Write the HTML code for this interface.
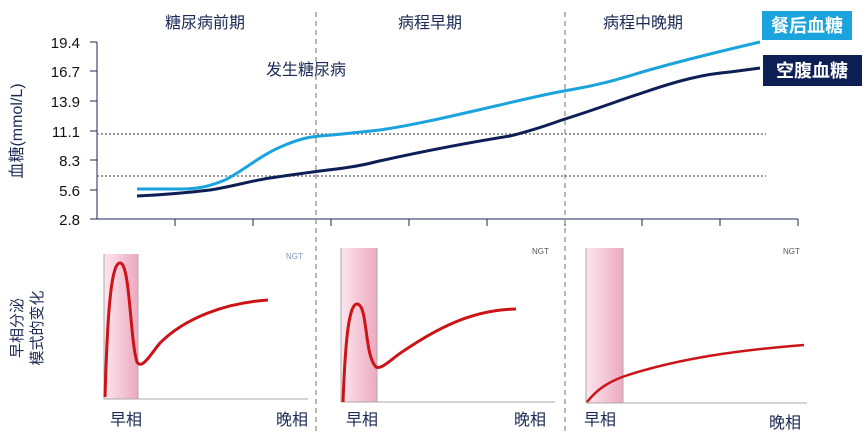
<!DOCTYPE html>
<html><head><meta charset="utf-8"><style>
body{margin:0;background:#fff;}
svg{display:block;font-family:"Liberation Sans","Noto Sans CJK SC",sans-serif;}
</style></head><body>
<svg width="867" height="441" viewBox="0 0 867 441">
<defs>
<linearGradient id="pk" x1="0" x2="1" y1="0" y2="0">
<stop offset="0" stop-color="#fbe6ee"/><stop offset="1" stop-color="#eda9c0"/>
</linearGradient>
</defs>
<g fill="#1b2a55" font-size="16">
<text x="165" y="28">糖尿病前期</text>
<text x="398" y="28">病程早期</text>
<text x="603" y="28">病程中晚期</text>
<text x="266" y="75">发生糖尿病</text>
</g>
<g fill="#111" font-size="15" text-anchor="end">
<text x="80" y="48">19.4</text><text x="80" y="77">16.7</text><text x="80" y="107">13.9</text>
<text x="80" y="137">11.1</text><text x="80" y="166">8.3</text><text x="80" y="196">5.6</text><text x="80" y="225">2.8</text>
</g>
<g stroke="#1b2a55" stroke-width="1">
<line x1="97" y1="42" x2="97" y2="219"/>
<line x1="97" y1="219" x2="798" y2="219"/>
<line x1="90" y1="42" x2="97" y2="42"/><line x1="90" y1="71" x2="97" y2="71"/><line x1="90" y1="101" x2="97" y2="101"/><line x1="90" y1="131" x2="97" y2="131"/><line x1="90" y1="160" x2="97" y2="160"/><line x1="90" y1="190" x2="97" y2="190"/><line x1="90" y1="219" x2="97" y2="219"/>
<line x1="175" y1="219" x2="175" y2="226"/><line x1="253" y1="219" x2="253" y2="226"/><line x1="331" y1="219" x2="331" y2="226"/><line x1="409" y1="219" x2="409" y2="226"/><line x1="487" y1="219" x2="487" y2="226"/><line x1="565" y1="219" x2="565" y2="226"/><line x1="642" y1="219" x2="642" y2="226"/><line x1="720" y1="219" x2="720" y2="226"/><line x1="798" y1="219" x2="798" y2="226"/>
</g>
<text transform="translate(22,131) rotate(-90)" fill="#1b2a55" font-size="16" text-anchor="middle">血糖(mmol/L)</text>
<g stroke="#777" stroke-width="1.5" stroke-dasharray="2,2">
<line x1="97" y1="134" x2="766" y2="134"/>
<line x1="97" y1="176" x2="766" y2="176"/>
</g>
<g stroke="#888" stroke-width="1.2" stroke-dasharray="5,4">
<line x1="316" y1="12" x2="316" y2="432"/>
<line x1="565" y1="12" x2="565" y2="432"/>
</g>
<path d="M137,189 L180,189 C200,189 210,186 225,180 C245,170 260,155 285,145 C300,139 308,137 320,136 C345,134 360,132 380,130 C420,124 460,114 500,105 C530,98 550,93 575,89 C610,83 630,75 660,67 C700,56 730,49 760,42" fill="none" stroke="#1ba3dd" stroke-width="3"/>
<path d="M137,196 C160,195 185,193 210,190 C235,186 250,181 270,178 C290,175 305,173 320,171 C345,168 360,166 375,162 C420,152 460,144 510,136 C535,130 550,124 565,119 C600,108 620,100 645,92 C680,80 705,74 730,72 C745,70 752,69 760,68" fill="none" stroke="#0d1f55" stroke-width="3"/>
<rect x="762" y="11" width="90" height="29" fill="#1ba3dd"/>
<text x="807" y="32" fill="#fff" font-size="18" font-weight="bold" text-anchor="middle">餐后血糖</text>
<rect x="763" y="55" width="99" height="31" fill="#0d1f55"/>
<text x="812" y="77" fill="#fff" font-size="18" font-weight="bold" text-anchor="middle">空腹血糖</text>
<g fill="#1b2a55" font-size="15" text-anchor="middle">
<text transform="translate(22,328) rotate(-90)">早相分泌</text>
<text transform="translate(42,328) rotate(-90)">模式的变化</text>
</g>
<rect x="104" y="254" width="34" height="145" fill="url(#pk)"/>
<g stroke="#aaa" stroke-width="1"><line x1="104" y1="254" x2="104" y2="399"/><line x1="138" y1="254" x2="138" y2="399"/><line x1="104" y1="399" x2="308" y2="399"/></g>
<path d="M105,397 C107,330 110,262 120,263 C130,262 130,340 137,362 C142,370 150,355 160,343 C185,318 225,303 268,300" fill="none" stroke="#cc1418" stroke-width="3"/>
<text x="286" y="259" fill="#7a9ac0" font-size="8">NGT</text>
<rect x="341" y="248" width="36" height="154" fill="url(#pk)"/>
<g stroke="#aaa" stroke-width="1"><line x1="341" y1="248" x2="341" y2="402"/><line x1="377" y1="248" x2="377" y2="402"/><line x1="341" y1="402" x2="555" y2="402"/></g>
<path d="M343,402 C345,350 348,304 357,304 C368,304 364,355 376,367 C382,370 392,358 405,350 C435,330 470,310 516,309" fill="none" stroke="#cc1418" stroke-width="3"/>
<text x="532" y="254" fill="#555" font-size="8">NGT</text>
<rect x="586" y="248" width="37" height="155" fill="url(#pk)"/>
<g stroke="#aaa" stroke-width="1"><line x1="586" y1="248" x2="586" y2="403"/><line x1="623" y1="248" x2="623" y2="403"/><line x1="586" y1="403" x2="807" y2="403"/></g>
<path d="M587,402 C595,392 605,383 625,376 C680,358 740,350 804,345" fill="none" stroke="#cc1418" stroke-width="2.5"/>
<text x="783" y="254" fill="#555" font-size="8">NGT</text>
<g fill="#1b2a55" font-size="16">
<text x="110" y="425">早相</text><text x="276" y="425">晚相</text>
<text x="346" y="425">早相</text><text x="514" y="425">晚相</text>
<text x="584" y="425">早相</text><text x="769" y="428">晚相</text>
</g>
</svg>
</body></html>
